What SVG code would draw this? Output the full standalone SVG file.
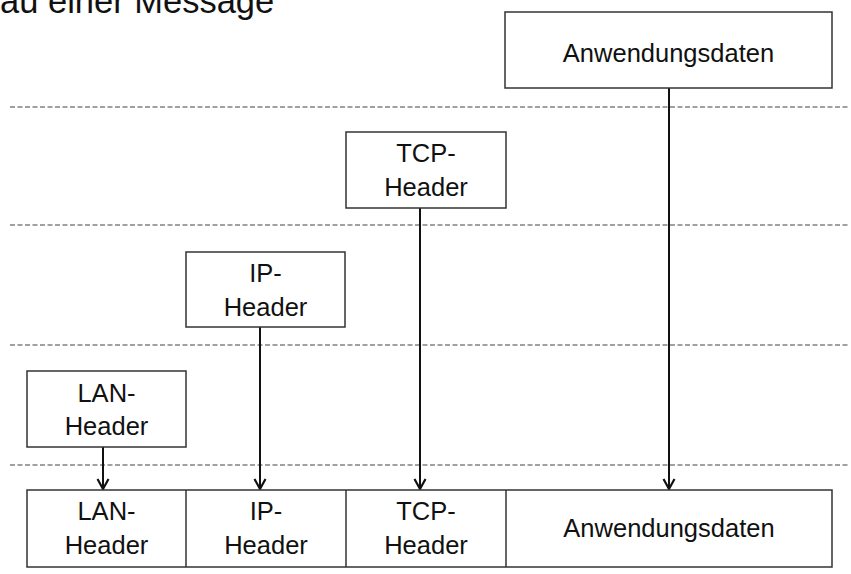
<svg xmlns="http://www.w3.org/2000/svg" width="851" height="574" viewBox="0 0 851 574">
<defs>
<style>
text{font-family:"Liberation Sans",Arial,sans-serif;fill:#111;}
.lbl{font-size:25.5px;text-anchor:middle;}
.box{fill:#fff;stroke:#333;stroke-width:1.5;}
.dash{stroke:#444;stroke-width:1.2;stroke-dasharray:5,2.5;fill:none;}
.arr{stroke:#111;stroke-width:2;fill:none;marker-end:url(#ah);}
</style>
<marker id="ah" markerWidth="14" markerHeight="14" refX="11" refY="7" orient="auto" markerUnits="userSpaceOnUse">
<path d="M1,1.5 L11,7 L1,12.5" fill="none" stroke="#111" stroke-width="2.2"/>
</marker>
</defs>
<rect width="851" height="574" fill="#fff"/>
<text x="0" y="13" style="font-size:34.5px">au einer Message</text>
<g id="layers">
<line class="dash" x1="10" y1="107" x2="848" y2="107"/>
<line class="dash" x1="10" y1="225" x2="848" y2="225"/>
<line class="dash" x1="10" y1="345" x2="848" y2="345"/>
<line class="dash" x1="10" y1="465" x2="848" y2="465"/>
</g>
<g id="connectors">
<line class="arr" x1="103" y1="447" x2="103" y2="489"/>
<line class="arr" x1="260" y1="327" x2="260" y2="489"/>
<line class="arr" x1="420" y1="208" x2="420" y2="489"/>
<line class="arr" x1="669" y1="88" x2="669" y2="489"/>
</g>
<g id="anw-top">
<rect class="box" x="505" y="12" width="327" height="76"/>
<text class="lbl" x="668.5" y="61.5">Anwendungsdaten</text>
</g>
<g id="tcp-top">
<rect class="box" x="346" y="132" width="160" height="76"/>
<text class="lbl" x="426" y="161.5">TCP-</text>
<text class="lbl" x="426" y="196">Header</text>
</g>
<g id="ip-top">
<rect class="box" x="186" y="252" width="159" height="75"/>
<text class="lbl" x="265.5" y="282">IP-</text>
<text class="lbl" x="265.5" y="316">Header</text>
</g>
<g id="lan-top">
<rect class="box" x="27" y="371" width="159" height="76"/>
<text class="lbl" x="106.5" y="401.5">LAN-</text>
<text class="lbl" x="106.5" y="435">Header</text>
</g>
<g id="message">
<rect class="box" x="27" y="490" width="805" height="77"/>
<line stroke="#333" stroke-width="1.5" x1="186" y1="490" x2="186" y2="567"/>
<line stroke="#333" stroke-width="1.5" x1="346" y1="490" x2="346" y2="567"/>
<line stroke="#333" stroke-width="1.5" x1="506" y1="490" x2="506" y2="567"/>
<text class="lbl" x="106.5" y="520">LAN-</text>
<text class="lbl" x="106.5" y="554">Header</text>
<text class="lbl" x="266" y="520">IP-</text>
<text class="lbl" x="266" y="554">Header</text>
<text class="lbl" x="426" y="520">TCP-</text>
<text class="lbl" x="426" y="554">Header</text>
<text class="lbl" x="669" y="537">Anwendungsdaten</text>
</g>
</svg>
